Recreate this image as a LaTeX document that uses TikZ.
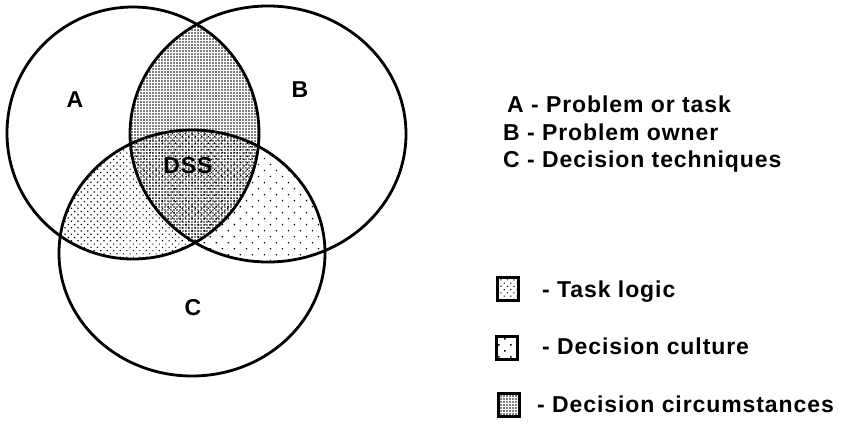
\documentclass[tikz,border=0pt]{standalone}
\usepackage{fontspec}
\setmainfont{Liberation Sans}
\newfontfamily\labfont[LetterSpace=4]{Liberation Sans}
\usetikzlibrary{patterns.meta}
\tikzset{
  venn/.style={line width=2.8pt, draw=black},
  lab/.style={font=\labfont\bfseries\fontsize{23}{27}\selectfont, inner sep=0pt},
  legtext/.style={lab, anchor=base west},
  legbox/.style={draw=black, line width=3pt, minimum width=21pt, minimum height=23pt, inner sep=0pt},
  densepat/.style={pattern={Dots[distance=3pt, radius=0.8pt]}},
  mediumpat/.style={pattern={Dots[distance=4.6pt, radius=0.85pt, angle=45]}},
  sparsepat/.style={pattern={Dots[distance=8.5pt, radius=0.95pt, angle=45]}}
}
\begin{document}
\begin{tikzpicture}[x=1pt,y=-1pt]
\useasboundingbox (0,0) rectangle (854,423);
\def\cA{(133,133) ellipse [x radius=126pt, y radius=126pt]}
\def\cB{(268,134) ellipse [x radius=138pt, y radius=128pt]}
\def\cC{(192,253) ellipse [x radius=133pt, y radius=123pt]}
% A and B: decision circumstances
\begin{scope}
  \clip \cA;
  \fill[densepat] \cB;
\end{scope}
% A and C: task logic
\begin{scope}
  \clip \cA;
  \fill[mediumpat] \cC;
\end{scope}
% B and C: decision culture
\begin{scope}
  \clip \cB;
  \fill[sparsepat] \cC;
\end{scope}
\draw[venn] \cA;
\draw[venn] \cB;
\draw[venn] \cC;
\node[lab] (la) at (75,100) {A};
\node[lab] (lb) at (300,90) {B};
\node[lab] (lc) at (193,308) {C};
\node[lab] (dss) at (188,166) {DSS};
% key
\node[legtext] (ka) at (507,112) {A - Problem or task};
\node[legtext] (kb) at (503,140) {B - Problem owner};
\node[legtext] (kc) at (503,167) {C - Decision techniques};
\node[legbox, mediumpat] (bt) at (508,289) {};
\node[legbox, sparsepat] (bc) at (507,348) {};
\node[legbox, densepat] (bd) at (509,405) {};
\node[legtext] (tt) at (542,297) {- Task logic};
\node[legtext] (tc) at (542,354) {- Decision culture};
\node[legtext] (td) at (537,412) {- Decision circumstances};
\end{tikzpicture}
\end{document}
